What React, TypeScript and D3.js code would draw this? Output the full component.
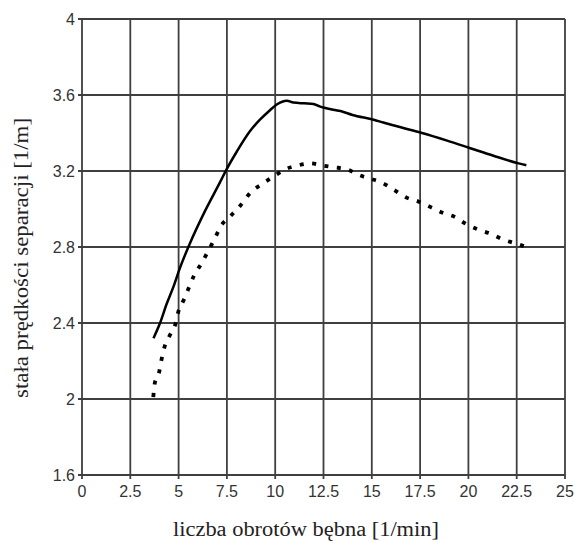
import React, { useEffect, useRef } from 'react';
import * as d3 from 'd3';

// solid curve
const solidX = [3.7, 4.04, 4.38, 4.73, 5.07, 5.59, 6.37, 7.14, 7.49, 8.0, 8.7, 9.21, 9.73, 10.08, 10.6, 10.94, 11.5, 11.98, 12.3, 13.0, 13.5, 14.0, 15.1, 15.6, 16.5, 17.6, 18.9, 20.1, 21.3, 22.6, 23.0];
const solidY = [2.32, 2.4, 2.5, 2.59, 2.69, 2.82, 2.99, 3.14, 3.21, 3.3, 3.41, 3.47, 3.52, 3.55, 3.57, 3.56, 3.556, 3.553, 3.54, 3.522, 3.512, 3.495, 3.47, 3.455, 3.43, 3.4, 3.36, 3.32, 3.28, 3.24, 3.23];

// dotted curve
const dotX = [3.69, 3.76, 3.99, 4.1, 4.26, 4.52, 4.85, 4.99, 5.26, 5.55, 5.8, 6.16, 6.54, 6.85, 7.19, 7.66, 8.21, 8.75, 9.3, 9.9, 10.54, 11.2, 11.84, 12.4, 13.0, 13.7, 14.3, 14.9, 15.5, 16.16, 16.8, 17.4, 18.05, 18.67, 19.27, 19.9, 20.55, 21.15, 21.78, 22.4, 23.0];
const dotY = [2.01, 2.08, 2.14, 2.2, 2.27, 2.33, 2.4, 2.46, 2.52, 2.59, 2.65, 2.71, 2.78, 2.84, 2.91, 2.96, 3.02, 3.09, 3.13, 3.17, 3.21, 3.23, 3.24, 3.23, 3.22, 3.21, 3.18, 3.16, 3.14, 3.1, 3.06, 3.04, 3.01, 2.98, 2.96, 2.92, 2.89, 2.87, 2.84, 2.82, 2.8];

const xTicks = [0, 2.5, 5, 7.5, 10, 12.5, 15, 17.5, 20, 22.5, 25];
const yTicks = [1.6, 2, 2.4, 2.8, 3.2, 3.6, 4];

const xTitle = 'liczba obrotów bębna [1/min]';
const yTitle = 'stała prędkości separacji [1/m]';

export default function App() {
  const svgRef = useRef<SVGSVGElement>(null);

  useEffect(() => {
    const W = 577, H = 543;
    const left = 82, right = 565, top = 19, bottom = 475;

    const svg = d3.select(svgRef.current);
    svg.selectAll('*').remove();
    svg.attr('width', W).attr('height', H);

    svg.append('rect').attr('width', W).attr('height', H).attr('fill', '#fff');

    const x = d3.scaleLinear().domain([0, 25]).range([left, right]);
    const y = d3.scaleLinear().domain([1.6, 4]).range([bottom, top]);

    const gridColor = '#3f3f3f';

    // grid
    svg.append('g').selectAll('line')
      .data(xTicks)
      .enter().append('line')
      .attr('x1', d => x(d)).attr('x2', d => x(d))
      .attr('y1', top).attr('y2', bottom + 4)
      .attr('stroke', gridColor).attr('stroke-width', 1.8);

    svg.append('g').selectAll('line')
      .data(yTicks)
      .enter().append('line')
      .attr('x1', left - 4).attr('x2', right)
      .attr('y1', d => y(d)).attr('y2', d => y(d))
      .attr('stroke', gridColor).attr('stroke-width', 1.8);

    // tick labels
    svg.append('g').selectAll('text')
      .data(yTicks)
      .enter().append('text')
      .attr('x', left - 7)
      .attr('y', d => y(d))
      .attr('dy', '0.36em')
      .attr('text-anchor', 'end')
      .style('font-family', '"Liberation Sans", Arial, sans-serif')
      .style('font-size', '16px')
      .style('fill', '#333')
      .text(d => String(d));

    svg.append('g').selectAll('text')
      .data(xTicks)
      .enter().append('text')
      .attr('x', d => x(d))
      .attr('y', bottom + 22)
      .attr('text-anchor', 'middle')
      .style('font-family', '"Liberation Sans", Arial, sans-serif')
      .style('font-size', '16px')
      .style('fill', '#333')
      .text(d => String(d));

    // axis titles
    svg.append('text')
      .attr('x', 306)
      .attr('y', 536)
      .attr('text-anchor', 'middle')
      .attr('textLength', 266)
      .attr('lengthAdjust', 'spacingAndGlyphs')
      .style('font-family', '"Liberation Serif", "Times New Roman", serif')
      .style('font-size', '20px')
      .style('fill', '#222')
      .text(xTitle);

    svg.append('text')
      .attr('transform', 'translate(28,258) rotate(-90)')
      .attr('text-anchor', 'middle')
      .attr('textLength', 280)
      .attr('lengthAdjust', 'spacingAndGlyphs')
      .style('font-family', '"Liberation Serif", "Times New Roman", serif')
      .style('font-size', '20px')
      .style('fill', '#222')
      .text(yTitle);

    const line = d3.line<[number, number]>()
      .x(d => x(d[0]))
      .y(d => y(d[1]))
      .curve(d3.curveMonotoneX);

    const solid = solidX.map((v, i) => [v, solidY[i]] as [number, number]);
    const dotted = dotX.map((v, i) => [v, dotY[i]] as [number, number]);

    svg.append('path')
      .datum(dotted)
      .attr('d', line)
      .attr('fill', 'none')
      .attr('stroke', '#000')
      .attr('stroke-width', 3.8)
      .attr('stroke-dasharray', '4 8.5');

    svg.append('path')
      .datum(solid)
      .attr('d', line)
      .attr('fill', 'none')
      .attr('stroke', '#000')
      .attr('stroke-width', 2.5);
  }, []);

  return (
    <svg ref={svgRef} style={{ position: 'absolute', left: 0, top: 0, display: 'block' }} />
  );
}
